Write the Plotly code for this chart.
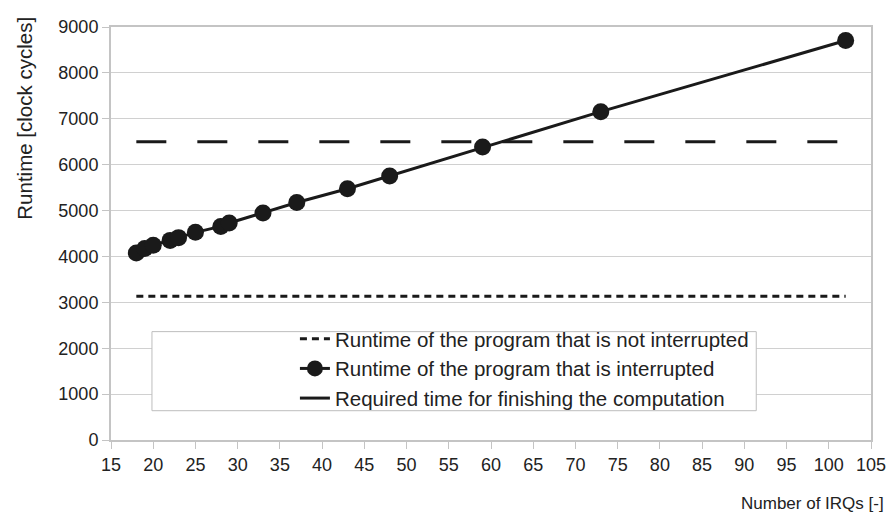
import plotly.graph_objects as go

irqs = [18, 19, 20, 22, 23, 25, 28, 29, 33, 37, 43, 48, 59, 73, 102]
runtime_interrupted = [4075, 4175, 4245, 4350, 4410, 4525, 4655, 4730, 4945, 5175, 5475, 5755, 6385, 7155, 8705]
runtime_not_interrupted = [3135] * len(irqs)
required_time = [6500] * len(irqs)

names = [
    "Runtime of the program that is not interrupted",
    "Runtime of the program that is interrupted",
    "Required time for finishing the computation",
]

x_ticks = list(range(15, 106, 5))
y_ticks = list(range(0, 9001, 1000))

FONT = "Liberation Sans, Arial, Helvetica, sans-serif"
INK = "#1a1a1a"
TXT = "#222222"
GRID = "#d0d0d0"
AXIS = "#c4c4c4"

fig = go.Figure()
fig.add_trace(go.Scatter(
    x=irqs, y=runtime_not_interrupted, mode="lines", name=names[0],
    line=dict(color=INK, width=3, dash="7px,5px"),
))
fig.add_trace(go.Scatter(
    x=irqs, y=runtime_interrupted, mode="lines+markers", name=names[1],
    line=dict(color=INK, width=3),
    marker=dict(color=INK, size=17, symbol="circle"),
))
fig.add_trace(go.Scatter(
    x=irqs, y=required_time, mode="lines", name=names[2],
    line=dict(color=INK, width=3, dash="30px,31px"),
))

# legend frame (opaque, covers gridlines)
fig.add_shape(type="rect", xref="paper", yref="paper",
              x0=0.0539, x1=0.849, y0=0.0709, y1=0.2624,
              line=dict(color="#bdbdbd", width=1), fillcolor="white", layer="above")

fig.update_layout(
    width=887, height=509,
    margin=dict(l=103, r=23, t=9, b=77),
    paper_bgcolor="white", plot_bgcolor="white",
    font=dict(family=FONT, size=18, color=TXT),
    showlegend=True,
    legend=dict(
        x=0.242, y=0.2931, xanchor="left", yanchor="top",
        bgcolor="rgba(0,0,0,0)", borderwidth=0,
        font=dict(family=FONT, size=20.5, color=TXT),
        tracegroupgap=0, itemwidth=30,
    ),
    xaxis=dict(
        range=[15, 105], tickmode="array", tickvals=x_ticks,
        ticktext=[str(v) for v in x_ticks],
        showgrid=False, zeroline=False,
        showline=True, linecolor=AXIS, linewidth=2, mirror=True,
        ticks="outside", ticklen=7, tickcolor=AXIS, tickwidth=1,
        tickfont=dict(family=FONT, size=18, color=TXT),
    ),
    yaxis=dict(
        range=[0, 9000], tickmode="array", tickvals=y_ticks,
        ticktext=[str(v) for v in y_ticks],
        showgrid=True, gridcolor=GRID, gridwidth=1, zeroline=False,
        showline=True, linecolor=AXIS, linewidth=2, mirror=True,
        ticks="outside", ticklen=7, tickcolor=AXIS, tickwidth=1,
        tickfont=dict(family=FONT, size=18, color=TXT),
    ),
    annotations=[
        dict(text="Runtime [clock cycles]", textangle=-90,
             xref="paper", yref="paper", x=0, y=0.778, xshift=-86,
             xanchor="center", yanchor="middle", showarrow=False,
             font=dict(family=FONT, size=20.5, color=TXT)),
        dict(text="Number of IRQs [-]",
             xref="paper", yref="paper", x=1, y=0, xshift=15, yshift=-63,
             xanchor="right", yanchor="middle", showarrow=False,
             font=dict(family=FONT, size=17, color=TXT)),
    ],
)

fig.write_html("out.html")
